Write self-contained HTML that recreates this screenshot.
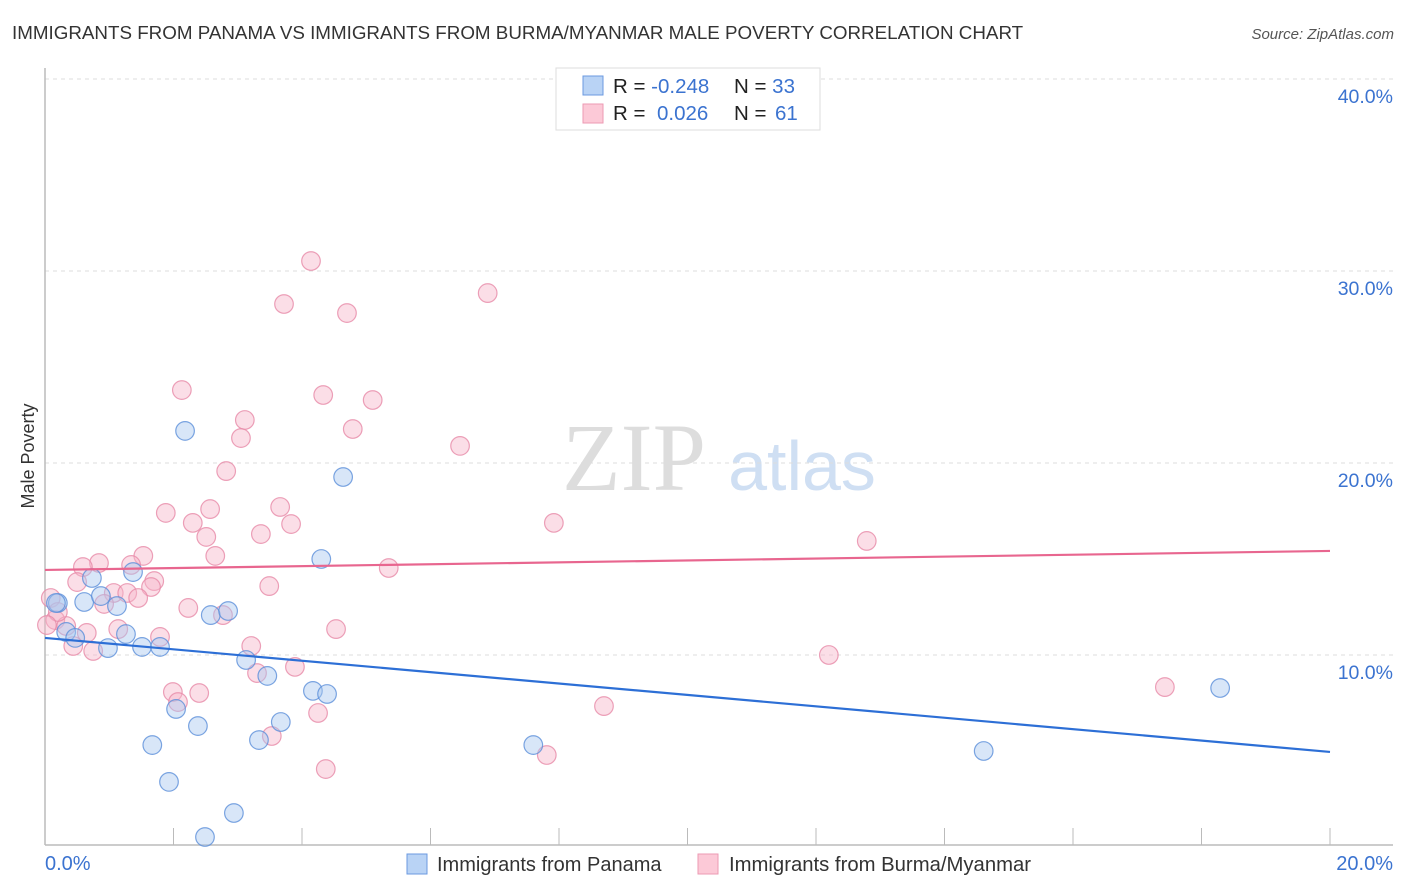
<!DOCTYPE html>
<html><head><meta charset="utf-8"><style>
body{margin:0;background:#fff;font-family:"Liberation Sans",sans-serif;}
svg{display:block}
</style></head><body>
<svg id="chart" width="1406" height="892">
<text x="12" y="39" font-size="18.8" fill="#333">IMMIGRANTS FROM PANAMA VS IMMIGRANTS FROM BURMA/MYANMAR MALE POVERTY CORRELATION CHART</text>
<text x="1394" y="39" font-size="15" fill="#555" font-style="italic" text-anchor="end">Source: ZipAtlas.com</text>
<text transform="translate(34,456) rotate(-90)" font-size="18" fill="#333" text-anchor="middle">Male Poverty</text>
<g>
<text x="634" y="490" font-size="96" fill="#ddd" font-family="Liberation Serif,serif" text-anchor="middle">ZIP</text>
<text x="802" y="490" font-size="70" fill="#cfdff3" text-anchor="middle">atlas</text>
</g>
<g id="grid"></g><g id="axes"></g><g id="trend"></g><g id="pts"></g>
<g>
<rect x="556" y="68" width="264" height="62" fill="#fff" stroke="#ddd"/>
<rect x="583" y="76" width="20" height="19" fill="#b9d3f5" stroke="#6b9ae0"/>
<rect x="583" y="104" width="20" height="19" fill="#fcc9d7" stroke="#ec9ab3"/>
<text x="613" y="93" font-size="20.5" fill="#222">R = <tspan fill="#3b73d0">-0.248</tspan><tspan x="734">N = </tspan><tspan fill="#3b73d0">33</tspan></text>
<text x="613" y="120" font-size="20.5" fill="#222">R = <tspan fill="#3b73d0" x="657">0.026</tspan><tspan x="734">N = </tspan><tspan fill="#3b73d0" x="775">61</tspan></text>
</g>
<g>
<rect x="407" y="854" width="20" height="20" fill="#b9d3f5" stroke="#6b9ae0"/>
<text x="437" y="871" font-size="20" fill="#333">Immigrants from Panama</text>
<rect x="698" y="854" width="20" height="20" fill="#fcc9d7" stroke="#ec9ab3"/>
<text x="729" y="871" font-size="20.3" fill="#333">Immigrants from Burma/Myanmar</text>
</g>
</svg>
<script>
const yTicks=[10,20,30,40];
const yTickLabels=["10.0%","20.0%","30.0%","40.0%"];
const xTickLabels=["0.0%","20.0%"];
const panamaX=[2.18,4.64,4.30,0.73,1.37,0.20,0.61,0.87,1.12,0.33,0.47,1.26,0.98,1.51,1.79,2.58,2.85,3.13,3.46,4.17,4.39,2.04,2.38,3.67,3.33,1.67,7.60,14.61,18.29,1.93,2.94,2.49,0.17];
const panamaY=[21.67,19.27,15.0,14.01,14.32,12.71,12.76,13.07,12.55,11.20,10.89,11.09,10.36,10.42,10.42,12.08,12.29,9.74,8.91,8.13,7.97,7.19,6.30,6.51,5.57,5.31,5.31,5.0,8.28,3.39,1.77,0.52,12.71];
const burmaX=[4.14,3.72,6.89,4.70,2.13,4.33,5.10,3.11,4.79,3.05,6.46,2.82,1.88,2.57,3.66,2.30,3.83,7.92,2.51,3.36,12.79,1.53,2.65,0.84,1.34,0.59,5.35,0.50,1.70,1.65,3.49,1.07,1.28,1.45,0.92,2.23,2.77,0.09,0.16,0.33,1.14,4.53,0.65,1.79,0.44,0.75,3.21,3.89,3.30,12.20,17.43,1.99,2.40,2.07,8.70,4.25,3.53,7.81,4.37,0.20,0.03];
const burmaY=[30.52,28.28,28.85,27.81,23.80,23.54,23.28,22.24,21.77,21.30,20.89,19.58,17.40,17.60,17.71,16.88,16.82,16.88,16.15,16.30,15.94,15.16,15.16,14.79,14.69,14.58,14.53,13.80,13.85,13.54,13.59,13.23,13.23,12.97,12.66,12.45,12.08,12.97,11.82,11.51,11.35,11.35,11.15,10.94,10.47,10.21,10.47,9.38,9.06,10.0,8.33,8.07,8.02,7.55,7.34,6.98,5.78,4.79,4.06,12.24,11.56];
const panamaTrend=[10.89,4.95];
const burmaTrend=[14.43,15.42];
const trendX=[0,20];

const NS="http://www.w3.org/2000/svg";
const X0=45,X1=1330,Y0=847,PX=19.2;
function sx(v){return X0+(v/20)*(X1-X0);}
function sy(v){return Y0-v*PX;}
function mk(tag,attrs,parent){const e=document.createElementNS(NS,tag);for(const k in attrs)e.setAttribute(k,attrs[k]);parent.appendChild(e);return e;}
const grid=document.getElementById('grid'),axes=document.getElementById('axes'),trend=document.getElementById('trend'),pts=document.getElementById('pts');
yTicks.forEach((t,i)=>{
  const l=mk('line',{x1:X0,x2:1393,y1:sy(t),y2:sy(t),stroke:'#ddd','stroke-dasharray':'4,4'},grid);
  
  
  const tx=mk('text',{x:1393,y:sy(t)+24,'font-size':19.5,fill:'#3b73d0','text-anchor':'end'},axes);
  tx.textContent=yTickLabels[i];
  
  
});
const ax=mk('line',{x1:X0,x2:X0,y1:68,y2:845,stroke:'#bbb','stroke-width':1.5},axes);


const bx=mk('line',{x1:X0,x2:1393,y1:845,y2:845,stroke:'#bbb','stroke-width':1.5},axes);


for(let i=1;i<=10;i++){
  const t=mk('line',{x1:sx(i*2),x2:sx(i*2),y1:828,y2:845,stroke:'#bbb'},axes);
  
  
}
[[0,'start',X0],[1,'end',1393]].forEach(([i,a,x])=>{
  const t=mk('text',{x:x,y:870,'font-size':20,fill:'#3b73d0','text-anchor':a},axes);
  t.textContent=xTickLabels[i];
  
  
});
function drawPts(xs,ys,fill,stroke,name){
  xs.forEach((x,i)=>{
    const c=mk('circle',{cx:sx(x),cy:sy(ys[i]),r:9.3,fill:fill,'fill-opacity':0.45,stroke:stroke,'stroke-opacity':0.8,'stroke-width':1.2},pts);
    
    
  });
}
drawPts(burmaX,burmaY,'#f7b6c9','#e78aa7','burma-point');
drawPts(panamaX,panamaY,'#a9c8f0','#5b8fd9','panama-point');
const t1=mk('line',{x1:sx(trendX[0]),x2:sx(trendX[1]),y1:sy(burmaTrend[0]),y2:sy(burmaTrend[1]),stroke:'#e8668f','stroke-width':2.2},trend);


const t2=mk('line',{x1:sx(trendX[0]),x2:sx(trendX[1]),y1:sy(panamaTrend[0]),y2:sy(panamaTrend[1]),stroke:'#2d6fd6','stroke-width':2.2},trend);


document.getElementById('chart').appendChild(document.getElementById('trend'));
</script>
</body></html>
